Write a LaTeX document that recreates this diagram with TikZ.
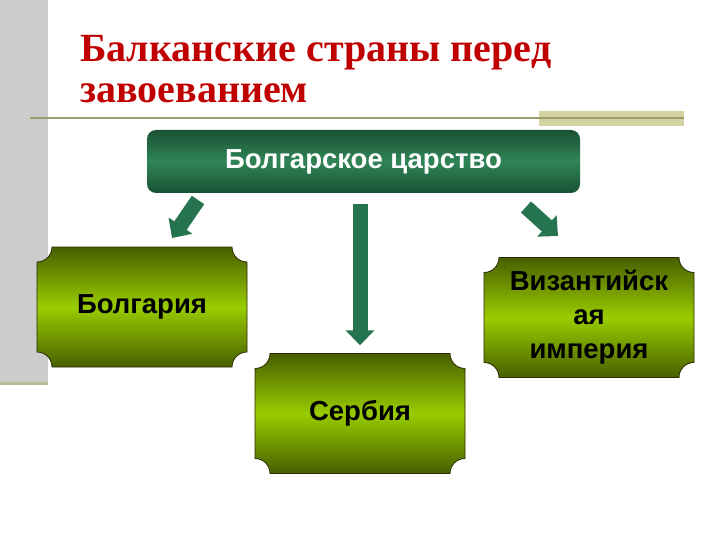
\documentclass[tikz,border=0pt]{standalone}
\usepackage{fontspec}
\setmainfont{Liberation Serif}
\newfontfamily\boxfont{Liberation Sans}
\usetikzlibrary{arrows.meta,calc}

\definecolor{titlered}{HTML}{C00000}
\definecolor{bandgray}{HTML}{CCCCCC}
\definecolor{ruleolive}{HTML}{9C9C6C}
\definecolor{khaki}{HTML}{D2D2A2}
\definecolor{tsardark}{HTML}{1A5234}
\definecolor{tsarlight}{HTML}{2F8456}
\definecolor{arrowgreen}{HTML}{26744F}
\definecolor{olvdark}{HTML}{475F00}
\definecolor{olvlight}{HTML}{99CC00}
\definecolor{boxedge}{HTML}{2A2A00}

\tikzset{
  tsarbox/.style={minimum width=433pt, minimum height=63pt, rounded corners=9pt,
    top color=tsardark, bottom color=tsardark, middle color=tsarlight,
    text=white, font=\boxfont\bfseries\fontsize{27.5}{32}\selectfont},
  cutedge/.style={draw=boxedge, line width=0.8pt,
    top color=olvdark, bottom color=olvdark, middle color=olvlight},
  cuttext/.style={minimum width=210pt, minimum height=120pt, text width=200pt,
    align=center, font=\boxfont\bfseries\fontsize{27.5}{34}\selectfont},
  bigarrow/.style={draw=arrowgreen, line width=15pt,
    -{Triangle[width=28pt,length=15pt]}},
}

% box with cut-in corners, drawn round its centre #2
\newcommand\cutbox[3]{%
  \draw[cutedge] ($(#2)+(-90,-60)$) -- ($(#2)+(90,-60)$)
    arc[start angle=180,end angle=90,radius=15] -- ($(#2)+(105,45)$)
    arc[start angle=270,end angle=180,radius=15] -- ($(#2)+(-90,60)$)
    arc[start angle=0,end angle=-90,radius=15] -- ($(#2)+(-105,-45)$)
    arc[start angle=90,end angle=0,radius=15] -- cycle;
  \node[cuttext] (#1) at (#2) {#3};
}

\begin{document}
\begin{tikzpicture}[x=1pt,y=-1pt]
  \useasboundingbox (0,0) rectangle (720,540);
  % slide decoration
  \fill[bandgray] (0,0) rectangle (48,382);
  \fill[ruleolive!70] (0,382) rectangle (48,385);
  \fill[khaki] (539,111) rectangle (684,126);
  \draw[ruleolive, line width=1.5pt] (30,118) -- (684,118);

  \node[anchor=base west, inner sep=0pt, text=titlered, font=\bfseries\fontsize{40}{41}\selectfont,
    align=left] (title) at (80,103) {Балканские страны перед\\завоеванием};

  \node[tsarbox] (tsar) at (363.5,161.5) {Болгарское царство};

  \cutbox{bulg}{142,307}{Болгария}
  \cutbox{srb}{360,413.5}{Сербия}
  \cutbox{viz}{589,317.5}{Византийск\\ая\\империя}

  \coordinate (left-tail) at (198,200);
  \coordinate (left-tip) at (172,238);
  \coordinate (right-tail) at (526,207);
  \coordinate (right-tip) at (558,236);
  \draw[bigarrow] (left-tail) -- (left-tip);
  \draw[bigarrow] (right-tail) -- (right-tip);
  \draw[bigarrow, shorten <=11pt, shorten >=8pt] (tsar.south -| srb.north) -- (srb.north);
\end{tikzpicture}
\end{document}
